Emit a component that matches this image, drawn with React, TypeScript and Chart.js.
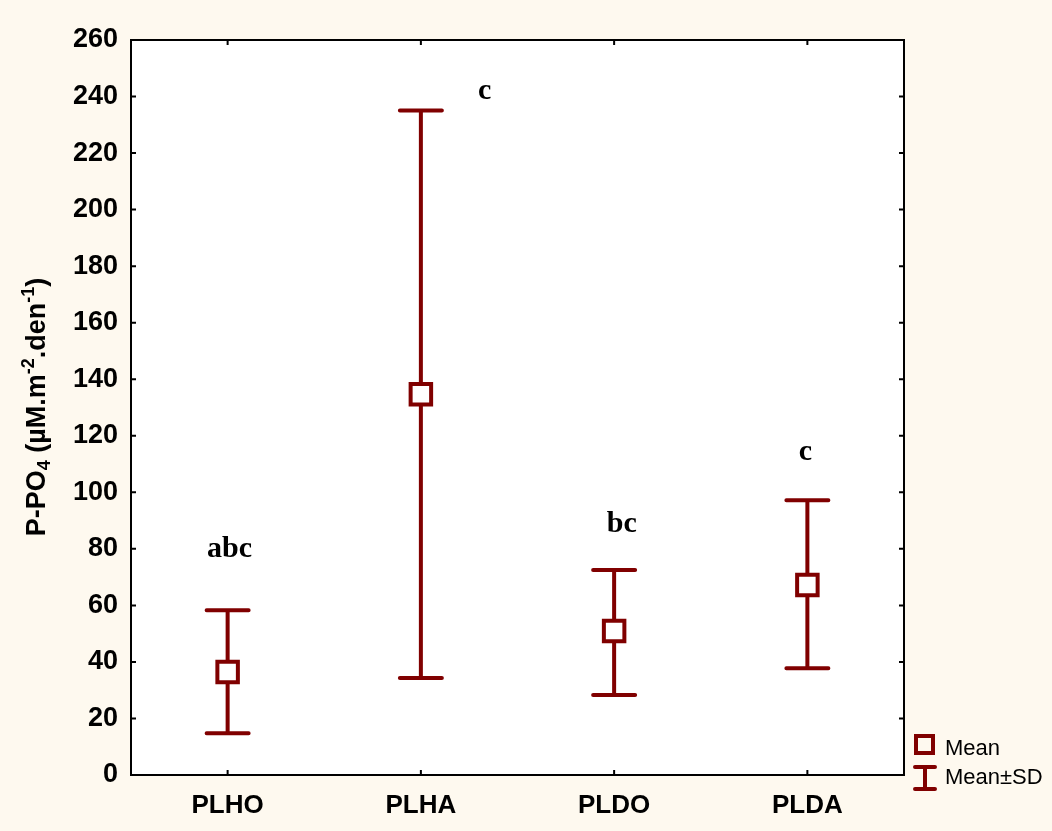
import React, { useEffect, useRef } from "react";
import { Chart, registerables } from "chart.js";

Chart.register(...registerables);

const categories = ["PLHO", "PLHA", "PLDO", "PLDA"];
const means = [36.4, 134.7, 50.9, 67.2];
const sdUpper = [58.3, 235.1, 72.5, 97.2];
const sdLower = [14.8, 34.3, 28.3, 37.8];
const groupLetters = ["abc", "c", "bc", "c"];
const letterValues = [77.1, 239, 85.9, 111.3];
const letterShift = [0.01, 0.33, 0.04, -0.01];
const yTicks = [0, 20, 40, 60, 80, 100, 120, 140, 160, 180, 200, 220, 240, 260];

const RED = "#800000";
const CREAM = "#FEF9EF";
const SANS = "'Liberation Sans', Arial, sans-serif";
const SERIF = "'Liberation Serif', 'Times New Roman', serif";

const bgPlugin = {
  id: "bgPlugin",
  beforeDraw(chart: any) {
    const { ctx, chartArea: a, width, height } = chart;
    ctx.save();
    ctx.fillStyle = CREAM;
    ctx.fillRect(0, 0, width, height);
    ctx.fillStyle = "#ffffff";
    ctx.fillRect(a.left, a.top, a.right - a.left, a.bottom - a.top);
    ctx.restore();
  },
};

const errorBarPlugin = {
  id: "errorBarPlugin",
  beforeDatasetsDraw(chart: any) {
    const { ctx } = chart;
    const xs = chart.scales.x;
    const ys = chart.scales.y;
    ctx.save();
    ctx.strokeStyle = RED;
    ctx.lineWidth = 4;
    ctx.lineCap = "round";
    for (let i = 0; i < categories.length; i++) {
      const x = xs.getPixelForValue(i);
      const yh = ys.getPixelForValue(sdUpper[i]);
      const yl = ys.getPixelForValue(sdLower[i]);
      ctx.beginPath();
      ctx.moveTo(x, yh);
      ctx.lineTo(x, yl);
      ctx.moveTo(x - 21, yh);
      ctx.lineTo(x + 21, yh);
      ctx.moveTo(x - 21, yl);
      ctx.lineTo(x + 21, yl);
      ctx.stroke();
    }
    ctx.restore();
  },
};

const framePlugin = {
  id: "framePlugin",
  afterDatasetsDraw(chart: any) {
    const { ctx, chartArea: a } = chart;
    const xs = chart.scales.x;
    const ys = chart.scales.y;
    ctx.save();
    ctx.strokeStyle = "#000000";
    ctx.lineWidth = 2;
    ctx.strokeRect(a.left, a.top, a.right - a.left, a.bottom - a.top);
    const t = 5;
    ctx.beginPath();
    for (const v of yTicks) {
      const y = ys.getPixelForValue(v);
      ctx.moveTo(a.left, y);
      ctx.lineTo(a.left + t, y);
      ctx.moveTo(a.right, y);
      ctx.lineTo(a.right - t, y);
    }
    for (let i = 0; i < categories.length; i++) {
      const x = xs.getPixelForValue(i);
      ctx.moveTo(x, a.bottom);
      ctx.lineTo(x, a.bottom - t);
      ctx.moveTo(x, a.top);
      ctx.lineTo(x, a.top + t);
    }
    ctx.stroke();

    // group letters
    ctx.fillStyle = "#000000";
    ctx.font = `bold 30px ${SERIF}`;
    ctx.textAlign = "center";
    ctx.textBaseline = "alphabetic";
    for (let i = 0; i < categories.length; i++) {
      const x = xs.getPixelForValue(i + letterShift[i]);
      const y = ys.getPixelForValue(letterValues[i]);
      ctx.fillText(groupLetters[i], x, y);
    }
    ctx.restore();
  },
};

const titlePlugin = {
  id: "titlePlugin",
  afterDraw(chart: any) {
    const { ctx } = chart;
    const big = `bold 27px ${SANS}`;
    const small = `bold 18px ${SANS}`;
    const parts: [string, string, number][] = [
      ["P-PO", big, 0],
      ["4", small, 5],
      [" (µM.m", big, 0],
      ["-2", small, -11],
      [".den", big, 0],
      ["-1", small, -11],
      [")", big, 0],
    ];
    ctx.save();
    let total = 0;
    for (const [txt, f] of parts) {
      ctx.font = f;
      total += ctx.measureText(txt).width;
    }
    ctx.translate(45, 407);
    ctx.rotate(-Math.PI / 2);
    ctx.fillStyle = "#000000";
    ctx.textAlign = "left";
    ctx.textBaseline = "alphabetic";
    let x = -total / 2;
    for (const [txt, f, dy] of parts) {
      ctx.font = f;
      ctx.fillText(txt, x, dy);
      x += ctx.measureText(txt).width;
    }
    ctx.restore();

    // legend
    ctx.save();
    ctx.strokeStyle = RED;
    ctx.lineWidth = 4;
    ctx.strokeRect(916, 736, 17, 17);
    ctx.beginPath();
    ctx.lineCap = "round";
    ctx.moveTo(925, 767);
    ctx.lineTo(925, 789);
    ctx.moveTo(915, 767);
    ctx.lineTo(935, 767);
    ctx.moveTo(915, 789);
    ctx.lineTo(935, 789);
    ctx.stroke();
    ctx.fillStyle = "#000000";
    ctx.font = `22px ${SANS}`;
    ctx.textAlign = "left";
    ctx.textBaseline = "alphabetic";
    ctx.fillText("Mean", 945, 755);
    ctx.fillText("Mean±SD", 945, 784);
    ctx.restore();
  },
};

export default function App() {
  const ref = useRef<HTMLCanvasElement>(null);
  useEffect(() => {
    if (!ref.current) return;
    const chart = new Chart(ref.current, {
      type: "line",
      data: {
        labels: categories,
        datasets: [
          {
            label: "Mean",
            data: means,
            showLine: false,
            pointStyle: "rect",
            pointRadius: 14.5,
            pointBorderWidth: 4,
            pointBorderColor: RED,
            pointBackgroundColor: "#ffffff",
            borderColor: RED,
            backgroundColor: "#ffffff",
          },
        ],
      },
      options: {
        animation: false,
        responsive: false,
        maintainAspectRatio: false,
        layout: { padding: { left: 0, top: 40, right: 148, bottom: 0 } },
        plugins: { legend: { display: false }, tooltip: { enabled: false } },
        scales: {
          x: {
            type: "category",
            offset: true,
            grid: { display: false },
            border: { display: false },
            ticks: {
              color: "#000000",
              padding: 7,
              font: { family: SANS, size: 26, weight: "bold" },
            },
            afterFit: (s: any) => {
              s.height = 56;
            },
          },
          y: {
            min: 0,
            max: 260,
            grid: { display: false },
            border: { display: false },
            afterBuildTicks: (s: any) => {
              s.ticks = yTicks.map((v) => ({ value: v }));
            },
            ticks: {
              color: "#000000",
              padding: 5,
              font: { family: SANS, size: 27, weight: "bold" },
            },
            afterFit: (s: any) => {
              s.width = 131;
            },
          },
        },
      },
      plugins: [bgPlugin, errorBarPlugin, framePlugin, titlePlugin],
    } as any);
    return () => chart.destroy();
  }, []);
  return (
    <div style={{ position: "fixed", left: 0, top: 0, width: 1052, height: 831, background: CREAM }}>
      <canvas ref={ref} width={1052} height={831} style={{ display: "block" }} />
    </div>
  );
}
